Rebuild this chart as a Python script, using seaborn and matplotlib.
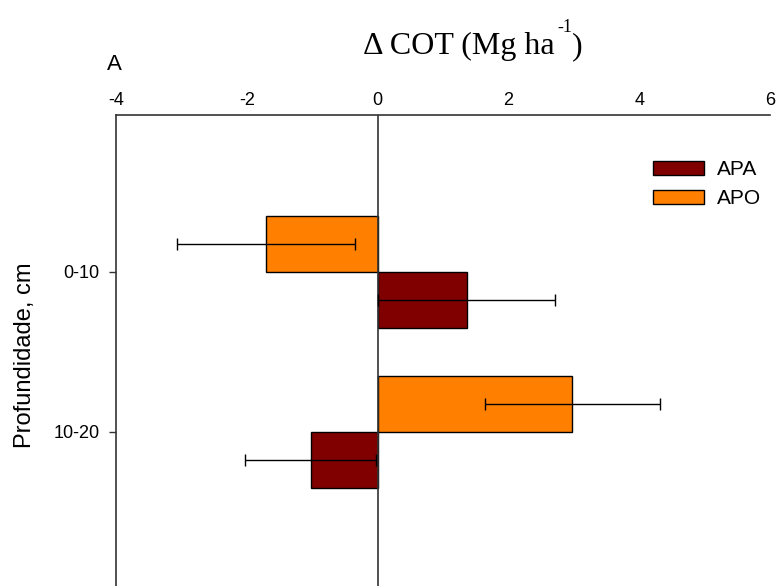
import matplotlib
matplotlib.use("Agg")
import matplotlib.pyplot as plt
import seaborn as sns
import pandas as pd
from matplotlib.patches import Patch

depths = ["0-10", "0-10", "10-20", "10-20"]
systems = ["APO", "APA", "APO", "APA"]
delta_cot = [-1.70, 1.36, 2.98, -1.02]
errors = [1.36, 1.36, 1.34, 1.00]
xticks = [-4, -2, 0, 2, 4, 6]

colors = {"APA": "#800000", "APO": "#FF8000"}

sns.set_style("white")
plt.rcParams["font.family"] = ["Liberation Sans", "DejaVu Sans"]
plt.rcParams["text.color"] = "black"

df = pd.DataFrame({"depth": depths, "system": systems, "value": delta_cot, "err": errors})

W, H = 779, 586
fig = plt.figure(figsize=(W / 100, H / 100), dpi=100)
ax = fig.add_axes([116 / W, 0.0, (770 - 116) / W, 1 - 115 / H])

sns.barplot(data=df, x="value", y="depth", hue="system", hue_order=["APO", "APA"],
            order=["0-10", "10-20"], orient="h", palette=colors, width=0.7, saturation=1,
            edgecolor="black", linewidth=1, errorbar=None, legend=False, ax=ax)

# error bars at bar ends
for patch in ax.patches:
    yc = patch.get_y() + patch.get_height() / 2
    x_end = patch.get_x() + patch.get_width()
    match = df[(df["value"] - x_end).abs() < 1e-6]
    if len(match):
        e = match["err"].iloc[0]
        ax.errorbar(x_end, yc, xerr=e, fmt="none", ecolor="black", elinewidth=1,
                    capsize=4, capthick=1, zorder=5)

ax.axvline(0, color="#333333", lw=1.2, zorder=1)

ax.set_xlim(-4, 6)
ax.set_ylim(1.9625, -0.98)
ax.set_xticks(xticks)
ax.set_xticklabels([str(t) for t in xticks])
ax.xaxis.tick_top()
ax.tick_params(axis="x", length=0, labelsize=13, pad=4.5, labelcolor="black")
ax.tick_params(axis="y", left=True, length=5, width=1, pad=7, labelsize=13,
               labelcolor="black", color="#333333")
ax.set_xlabel("")
ax.set_ylabel("Profundidade, cm", fontsize=17, color="black")
ax.yaxis.label.set_va("center")
ax.yaxis.set_label_coords((25 - 116) / 654, (586 - 355) / 471)

for s in ["right", "bottom"]:
    ax.spines[s].set_visible(False)
for s in ["left", "top"]:
    ax.spines[s].set_color("#333333")
    ax.spines[s].set_linewidth(1.2)

serif = ["Liberation Serif", "DejaVu Serif"]
fig.text(363 / W, 1 - 54 / H, "\u0394 COT (Mg ha", ha="left", va="baseline",
         fontsize=23, family=serif, color="black")
fig.text(557 / W, 1 - 32 / H, "-1", ha="left", va="baseline",
         fontsize=13, family=serif, color="black")
fig.text(572 / W, 1 - 54 / H, ")", ha="left", va="baseline",
         fontsize=23, family=serif, color="black")
fig.text(107 / W, 1 - 65 / H, "A", ha="left", va="center", fontsize=16, color="black")

handles = [Patch(facecolor=colors["APA"], edgecolor="black", label="APA"),
           Patch(facecolor=colors["APO"], edgecolor="black", label="APO")]
leg = fig.legend(handles=handles, loc="upper left", bbox_to_anchor=(653 / W, 1 - 160 / H),
                 frameon=False, fontsize=15, handlelength=2.45, handleheight=0.67,
                 labelspacing=0.5, handletextpad=0.6, borderpad=0, borderaxespad=0)

fig.savefig("out.png", dpi=100)
